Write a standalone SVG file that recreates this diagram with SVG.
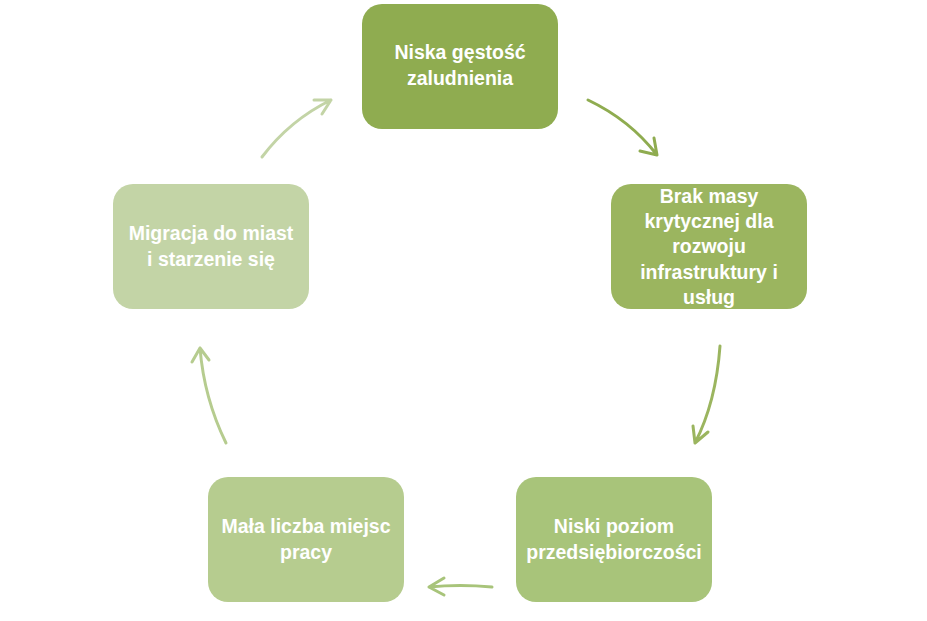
<svg xmlns="http://www.w3.org/2000/svg" width="927" height="621" viewBox="0 0 927 621">
<style>
.t{font-family:"Liberation Sans",Arial,sans-serif;font-weight:bold;font-size:19.5px;fill:#fff;text-anchor:middle}
.c{fill:none;stroke-width:3;stroke-linecap:round;stroke-linejoin:round}
</style>
<rect width="927" height="621" fill="#fff"/>
<g id="connectors">
<path class="c" stroke="#8FAC50" d="M588,100 Q630,120 657,155 M657,155 L640,151 M657,155 L654,138"/>
<path class="c" stroke="#9BB55F" d="M720,346 Q716,402 695,443 M695,443 L693,426 M695,443 L708,432"/>
<path class="c" stroke="#A8C47A" d="M492,587 Q460,584 429,587 M429,587 L444,578 M429,587 L444,595"/>
<path class="c" stroke="#B6CC8F" d="M226,443 Q204,398 200,348 M200,348 L192,362 M200,348 L209,360"/>
<path class="c" stroke="#C3D4A6" d="M262,157 Q290,120 331,100 M331,100 L314,100 M331,100 L322,114"/>
</g>
<g id="n1"><rect x="362" y="4" width="196" height="125" rx="20" fill="#8FAC50"/>
<text class="t" x="460" y="59">Niska gęstość</text><text class="t" x="460" y="85">zaludnienia</text></g>
<g id="n2"><rect x="611" y="184" width="196" height="125" rx="20" fill="#9BB55F"/>
<text class="t" x="709" y="203">Brak masy</text><text class="t" x="709" y="228">krytycznej dla</text><text class="t" x="709" y="253">rozwoju</text><text class="t" x="709" y="279">infrastruktury i</text><text class="t" x="709" y="304">usług</text></g>
<g id="n3"><rect x="516" y="477" width="196" height="125" rx="20" fill="#A8C47A"/>
<text class="t" x="614" y="533">Niski poziom</text><text class="t" x="614" y="559">przedsiębiorczości</text></g>
<g id="n4"><rect x="208" y="477" width="196" height="125" rx="20" fill="#B6CC8F"/>
<text class="t" x="306" y="533">Mała liczba miejsc</text><text class="t" x="306" y="559">pracy</text></g>
<g id="n5"><rect x="113" y="184" width="196" height="125" rx="20" fill="#C3D4A6"/>
<text class="t" x="211" y="240">Migracja do miast</text><text class="t" x="211" y="266">i starzenie się</text></g>
</svg>
